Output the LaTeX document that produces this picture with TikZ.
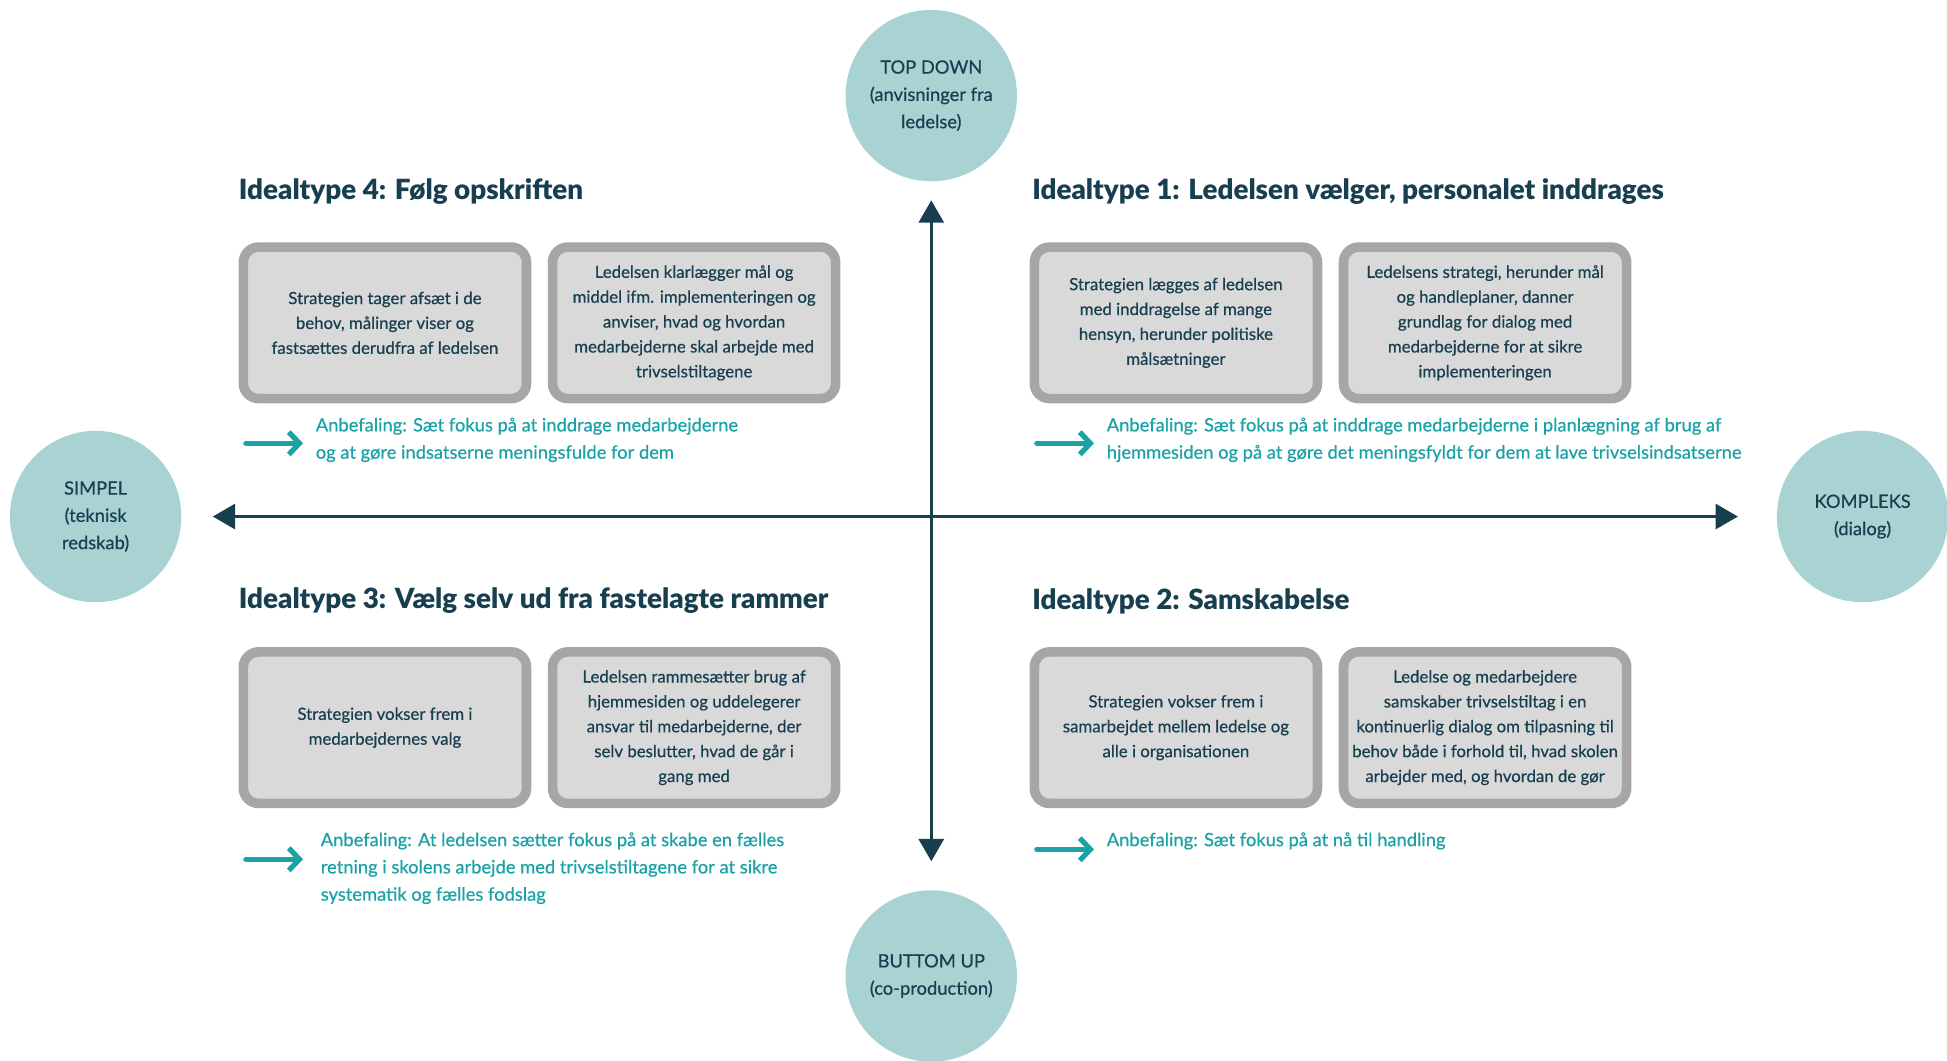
\documentclass[tikz,border=0pt]{standalone}
\usepackage{fontspec}
\setmainfont{Lato}[FakeBold=0.5]
\newfontfamily\titelfont{Lato Black}
\usepackage{tikz}
\usetikzlibrary{
arrows.meta,
positioning,
}

\definecolor{navy}{HTML}{173F50}
\definecolor{polecol}{HTML}{A8D3D2}
\definecolor{anbefcol}{HTML}{1AA2A6}
\definecolor{boxfill}{HTML}{D9D9D9}
\definecolor{boxline}{HTML}{A6A6A6}

\begin{document}
\begin{tikzpicture}[x=0.2mm, y=0.2mm,
	pole/.style={circle, fill=polecol, minimum size=2.76cm, inner sep=0pt, align=center, text=navy, font=\fontsize{8.4}{12.5}\selectfont},
	idealbox/.style={draw=boxline, line width=4.4pt, fill=boxfill, rounded corners=7pt, minimum width=4.56cm, minimum height=2.44cm, inner sep=0pt, align=center, text=navy, font=\fontsize{7.7}{11.4}\selectfont},
	ideal/.style={anchor=west, inner sep=0pt, text=navy, font=\fontsize{12.75}{14}\titelfont},
	anbef/.style={anchor=north west, inner sep=0pt, align=left, text=anbefcol, font=\fontsize{8.4}{12.5}\selectfont},
	akse/.style={navy, line width=1.6pt, {Triangle[length=0.36cm, width=0.4cm]}-{Triangle[length=0.36cm, width=0.4cm]}},
	pil/.style={anbefcol, line width=2.4pt, line cap=round, line join=round, -{Straight Barb[length=0.17cm, width=0.36cm]}},
	]
	\path[fill=white, use as bounding box] (0,0) rectangle (1568,854);

	\node[pole] (top) at (750,777) {TOP DOWN\\(anvisninger fra\\ledelse)};
	\node[pole] (bund) at (750,68) {BUTTOM UP\\(co-production)};
	\node[pole] (simpel) at (77,438) {SIMPEL\\(teknisk\\redskab)};
	\node[pole] (kompleks) at (1500,438) {KOMPLEKS\\(dialog)};

	\draw[akse, shorten <=0.5cm, shorten >=0.62cm] (simpel) -- (kompleks);
	\draw[akse, shorten <=0.3cm, shorten >=0.46cm] (top) -- (bund);

	\node[ideal] (titel4) at (192,700) {Idealtype 4: Følg opskriften};
	\node[ideal] (titel1) at (831,700) {Idealtype 1: Ledelsen vælger, personalet inddrages};
	\node[ideal] (titel3) at (192,370) {Idealtype 3: Vælg selv ud fra fastelagte rammer};
	\node[ideal] (titel2) at (831,370) {Idealtype 2: Samskabelse};

	\node[idealbox] (t4a) at (310,594) {Strategien tager afsæt i de\\behov, målinger viser og\\fastsættes derudfra af ledelsen};
	\node[idealbox] (t4b) at (559,594) {Ledelsen klarlægger mål og\\middel ifm. implementeringen og\\anviser, hvad og hvordan\\medarbejderne skal arbejde med\\trivselstiltagene};
	\node[idealbox] (t1a) at (947,594) {Strategien lægges af ledelsen\\med inddragelse af mange\\hensyn, herunder politiske\\målsætninger};
	\node[idealbox] (t1b) at (1196,594) {Ledelsens strategi, herunder mål\\og handleplaner, danner\\grundlag for dialog med\\medarbejderne for at sikre\\implementeringen};
	\node[idealbox] (t3a) at (310,268) {Strategien vokser frem i\\medarbejdernes valg};
	\node[idealbox] (t3b) at (559,268) {Ledelsen rammesætter brug af\\hjemmesiden og uddelegerer\\ansvar til medarbejderne, der\\selv beslutter, hvad de går i\\gang med};
	\node[idealbox] (t2a) at (947,268) {Strategien vokser frem i\\samarbejdet mellem ledelse og\\alle i organisationen};
	\node[idealbox] (t2b) at (1196,268) {Ledelse og medarbejdere\\samskaber trivselstiltag i en\\kontinuerlig dialog om tilpasning til\\behov både i forhold til, hvad skolen\\arbejder med, og hvordan de gør};

	\node[anbef] (anbef4) at (254,518) {Anbefaling: Sæt fokus på at inddrage medarbejderne\\og at gøre indsatserne meningsfulde for dem};
	\node[anbef] (anbef1) at (891,518) {Anbefaling: Sæt fokus på at inddrage medarbejderne i planlægning af brug af\\hjemmesiden og på at gøre det meningsfyldt for dem at lave trivselsindsatserne};
	\node[anbef] (anbef3) at (258,184) {Anbefaling: At ledelsen sætter fokus på at skabe en fælles\\retning i skolens arbejde med trivselstiltagene for at sikre\\systematik og fælles fodslag};
	\node[anbef] (anbef2) at (891,184) {Anbefaling: Sæt fokus på at nå til handling};

	\coordinate (p4) at (198,497);
	\coordinate (p1) at (835,497);
	\coordinate (p3) at (198,162);
	\coordinate (p2) at (835,170);
	\draw[pil] (p4) -- ([xshift=-0.2cm]p4 -| anbef4.west);
	\draw[pil] (p1) -- ([xshift=-0.2cm]p1 -| anbef1.west);
	\draw[pil] (p3) -- ([xshift=-0.28cm]p3 -| anbef3.west);
	\draw[pil] (p2) -- ([xshift=-0.2cm]p2 -| anbef2.west);
\end{tikzpicture}
\end{document}
